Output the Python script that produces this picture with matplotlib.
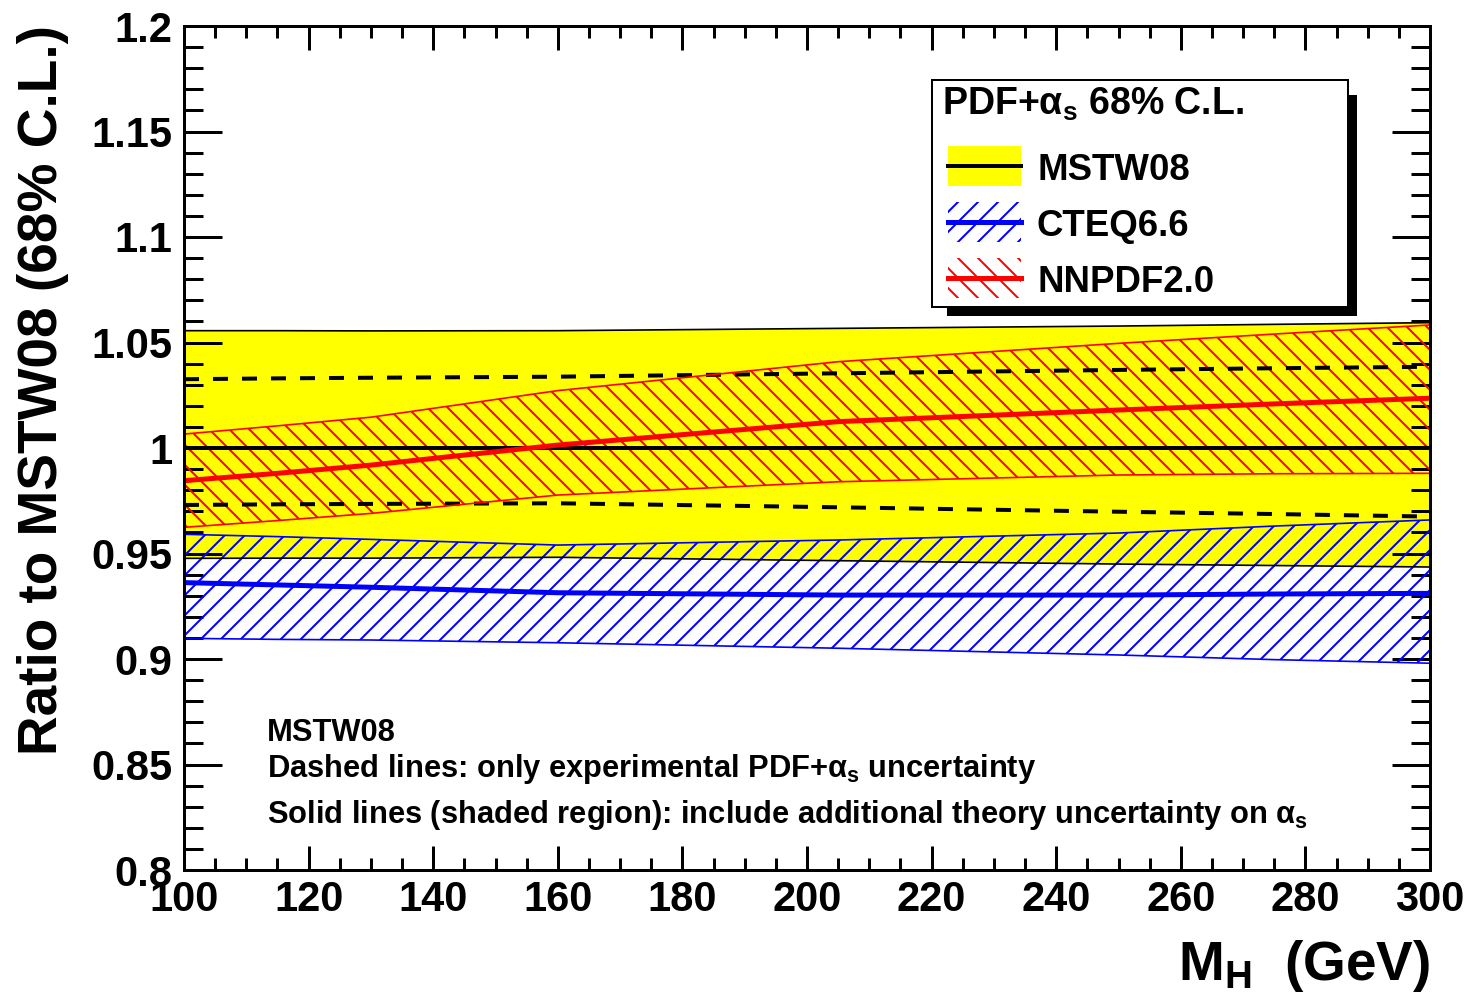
import numpy as np
import matplotlib
matplotlib.use("Agg")
from matplotlib import pyplot as plt
from matplotlib.patches import Rectangle
from matplotlib.lines import Line2D
from matplotlib.ticker import MultipleLocator

W, H, DPI = 1471, 992, 120

# Higgs mass points (GeV) and ratio to MSTW08 central value
mh = [100, 115, 130, 160, 205, 250, 275, 300]

mstw_hi = [1.0556, 1.0556, 1.0555, 1.0556, 1.0567, 1.0578, 1.0586, 1.0594]
mstw_lo = [0.9477, 0.9478, 0.9478, 0.9482, 0.9466, 0.9450, 0.9443, 0.9436]
mstw_exp_hi = [1.0326, 1.0330, 1.0333, 1.0338, 1.0354, 1.0370, 1.0378, 1.0385]
mstw_exp_lo = [0.9730, 0.9733, 0.9735, 0.9738, 0.9719, 0.9698, 0.9687, 0.9675]
mstw_c = [1.0, 1.0, 1.0, 1.0, 1.0, 1.0, 1.0, 1.0]

cteq_hi = [0.9591, 0.9580, 0.9567, 0.9540, 0.9564, 0.9597, 0.9630, 0.9659]
cteq_c = [0.9362, 0.9351, 0.9340, 0.9314, 0.9303, 0.9303, 0.9308, 0.9311]
cteq_lo = [0.9098, 0.9093, 0.9090, 0.9077, 0.9051, 0.9019, 0.8997, 0.8980]

nnpdf_hi = [1.0066, 1.0105, 1.0146, 1.0272, 1.0409, 1.0496, 1.0540, 1.0583]
nnpdf_c = [0.9845, 0.9880, 0.9919, 1.0014, 1.0125, 1.0180, 1.0209, 1.0236]
nnpdf_lo = [0.9624, 0.9656, 0.9690, 0.9777, 0.9840, 0.9872, 0.9878, 0.9880]

yticks = [0.8, 0.85, 0.9, 0.95, 1.0, 1.05, 1.1, 1.15, 1.2]
ylabels = ["0.8", "0.85", "0.9", "0.95", "1", "1.05", "1.1", "1.15", "1.2"]
xticks = [100, 120, 140, 160, 180, 200, 220, 240, 260, 280, 300]

yellow, blue, red = "#ffff00", "#0000ff", "#ff0000"

plt.rcParams["font.family"] = "Liberation Sans"
plt.rcParams["font.weight"] = "bold"
plt.rcParams["mathtext.fontset"] = "custom"
plt.rcParams["mathtext.rm"] = "Liberation Sans"
plt.rcParams["mathtext.it"] = "Liberation Sans:italic"
plt.rcParams["mathtext.bf"] = "Liberation Sans:bold"
plt.rcParams["hatch.linewidth"] = 1.2


def px(x, y):
    # pixel position -> figure fraction
    return x / W, 1 - y / H


fig = plt.figure(figsize=(W / DPI, H / DPI), dpi=DPI)
ax = fig.add_axes([184 / W, 1 - 870 / H, (1430 - 184) / W, (870 - 26) / H])

# MSTW08 band
ax.fill_between(mh, mstw_lo, mstw_hi, facecolor=yellow, edgecolor="none", zorder=1)
ax.plot(mh, mstw_hi, color="k", lw=1.0, zorder=4)
ax.plot(mh, mstw_lo, color="k", lw=1.0, zorder=4)

# CTEQ6.6 and NNPDF2.0 hatched bands
ax.fill_between(mh, cteq_lo, cteq_hi, facecolor="none", edgecolor=blue,
                hatch="//", lw=0, zorder=2)
ax.fill_between(mh, nnpdf_lo, nnpdf_hi, facecolor="none", edgecolor=red,
                hatch="\\\\", lw=0, zorder=2)

ax.plot(mh, mstw_exp_hi, color="k", lw=2.4, ls=(0, (3.75, 3.5)), zorder=3)
ax.plot(mh, mstw_exp_lo, color="k", lw=2.4, ls=(0, (3.75, 3.5)), zorder=3)
ax.plot(mh, mstw_c, color="k", lw=2.4, zorder=3)

ax.plot(mh, cteq_hi, color=blue, lw=1.0, zorder=5)
ax.plot(mh, cteq_lo, color=blue, lw=1.0, zorder=5)
ax.plot(mh, cteq_c, color=blue, lw=3.0, zorder=5)

ax.plot(mh, nnpdf_hi, color=red, lw=1.0, zorder=5)
ax.plot(mh, nnpdf_lo, color=red, lw=1.0, zorder=5)
ax.plot(mh, nnpdf_c, color=red, lw=3.0, zorder=5)

ax.set_xlim(100, 300)
ax.set_ylim(0.8, 1.2)
ax.set_xticks(xticks)
ax.set_yticks(yticks)
ax.set_yticklabels(ylabels)
ax.xaxis.set_minor_locator(MultipleLocator(5))
ax.yaxis.set_minor_locator(MultipleLocator(0.01))
ax.tick_params(axis="both", which="both", direction="in", top=True, right=True,
               width=1.8, labelsize=25)
ax.tick_params(axis="y", which="major", length=22.8, pad=7)
ax.tick_params(axis="y", which="minor", length=11.4)
ax.tick_params(axis="x", which="major", length=14.4, pad=6)
ax.tick_params(axis="x", which="minor", length=7.2)
for s in ax.spines.values():
    s.set_linewidth(1.8)
    s.set_zorder(10)

# axis titles
fig.text(*px(17, 25), "Ratio to MSTW08 (68% C.L.)", rotation=90,
         ha="left", va="top", fontsize=33)
fig.text(*px(1430, 980), r"M$_{\mathbf{H}}$  (GeV)", ha="right", va="baseline",
         fontsize=33)

# notes
alpha_s = r"$\mathrm{\alpha}_{\mathbf{s}}$"
fig.text(*px(267, 741), "MSTW08", fontsize=18.5, va="baseline")
fig.text(*px(267, 777), "Dashed lines: only experimental PDF+" + alpha_s + " uncertainty",
         fontsize=18.5, va="baseline")
fig.text(*px(267, 823), "Solid lines (shaded region): include additional theory uncertainty on "
         + alpha_s, fontsize=18.5, va="baseline")

# legend box with shadow
fig.add_artist(Rectangle(px(947, 316), 410 / W, 221 / H, transform=fig.transFigure,
                         facecolor="k", edgecolor="none", zorder=5))
fig.add_artist(Rectangle(px(932, 307), 416 / W, 227 / H, transform=fig.transFigure,
                         facecolor="white", edgecolor="k", lw=1.2, zorder=6))
fig.text(*px(942, 115), "PDF+" + alpha_s + " 68% C.L.", fontsize=22.5, va="baseline",
         zorder=8)

entries = [
    ("MSTW08", yellow, None, "k", 2.4, 166, 180),
    ("CTEQ6.6", "none", "//", blue, 3.0, 222, 236),
    ("NNPDF2.0", "none", "\\\\", red, 3.0, 278, 292),
]
for name, fc, hatch, lc, lw, yc, yb in entries:
    fig.add_artist(Rectangle(px(948, yc + 20), 73 / W, 40 / H, transform=fig.transFigure,
                             facecolor=fc, edgecolor=lc if hatch else "none",
                             hatch=hatch, lw=0, zorder=7))
    fig.add_artist(Line2D([948 / W, 1021 / W], [1 - yc / H] * 2, transform=fig.transFigure,
                          color=lc, lw=lw, zorder=8))
    fig.text(*px(1037, yb), name, fontsize=22, va="baseline", zorder=8)

fig.savefig("out.png", dpi=DPI)
